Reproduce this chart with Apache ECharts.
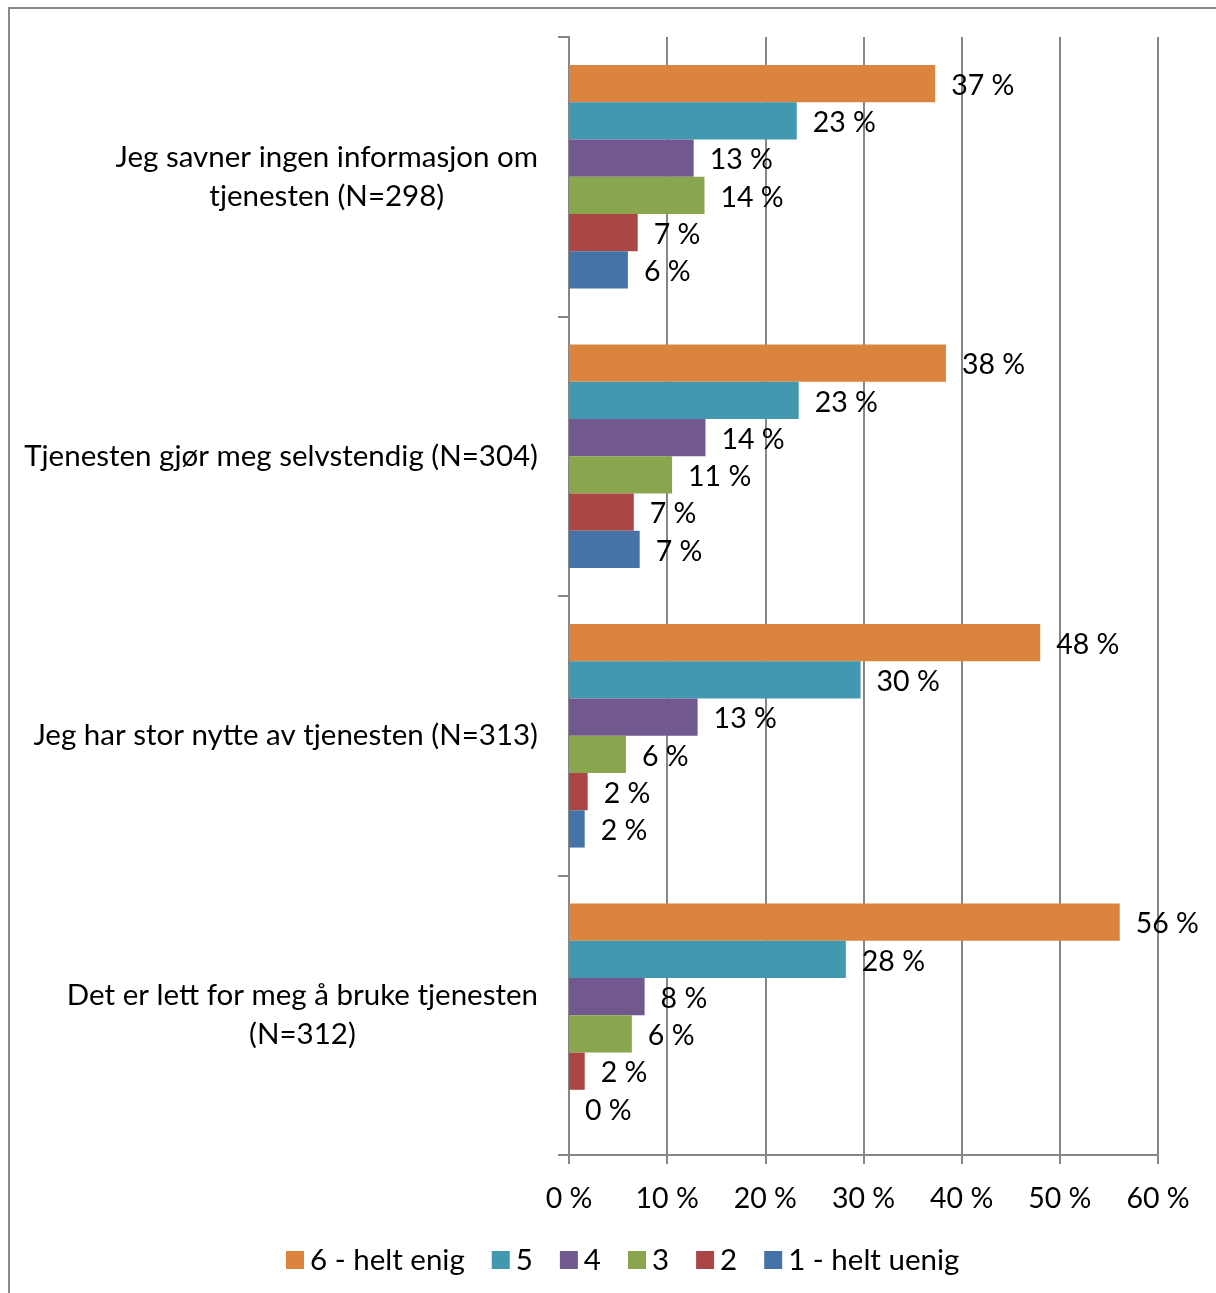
<!DOCTYPE html>
<html>
<head>
<meta charset="utf-8">
<script src="https://cdn.jsdelivr.net/npm/echarts@6/dist/echarts.min.js"></script>
<style>
  html, body { margin: 0; padding: 0; background: #fff; }
  #chart { width: 1216px; height: 1293px; }
</style>
</head>
<body>
<div id="chart"></div>
<script>
// Survey statements (top to bottom) and the share of answers per score, in percent
const categories = [
  'Jeg savner ingen informasjon om\ntjenesten (N=298)',
  'Tjenesten gjør meg selvstendig (N=304)',
  'Jeg har stor nytte av tjenesten (N=313)',
  'Det er lett for meg å bruke tjenesten\n(N=312)'
];
const seriesNames = ['6 - helt enig', '5', '4', '3', '2', '1 - helt uenig'];
const score6 = [37.3, 38.4, 48.0, 56.1];
const score5 = [23.2, 23.4, 29.7, 28.2];
const score4 = [12.7, 13.9, 13.1, 7.7];
const score3 = [13.8, 10.5, 5.8, 6.4];
const score2 = [7.0, 6.6, 1.9, 1.6];
const score1 = [6.0, 7.2, 1.6, 0];
const xTicks = [0, 10, 20, 30, 40, 50, 60];

const colors = ['#DB843D', '#4198AF', '#71588F', '#89A54E', '#AA4643', '#4572A7'];
const values = [score6, score5, score4, score3, score2, score1];
const FONT = 'Lato, "Open Sans", sans-serif';
const AXIS_GREY = '#868686';

const chart = echarts.init(document.getElementById('chart'));

const series = seriesNames.map((name, i) => ({
  name: name,
  type: 'bar',
  data: values[i],
  barGap: '0%',
  barCategoryGap: '20%',
  itemStyle: { color: colors[i] },
  label: {
    show: true,
    position: 'right',
    distance: 16,
    offset: [0, 2],
    color: '#000',
    fontFamily: FONT,
    fontSize: 28.5,
    formatter: p => Math.round(p.value) + ' %'
  }
}));

chart.setOption({
  animation: false,
  backgroundColor: '#fff',
  textStyle: { fontFamily: FONT },
  graphic: [
    { type: 'rect', shape: { x: 8, y: 7, width: 1300, height: 2 }, style: { fill: '#888' } },
    { type: 'rect', shape: { x: 8, y: 7, width: 2, height: 1400 }, style: { fill: '#888' } }
  ],
  grid: { left: 569, right: 58, top: 37, bottom: 138, containLabel: false },
  legend: {
    data: seriesNames,
    left: 281,
    top: 1240,
    itemWidth: 18,
    itemHeight: 18,
    itemGap: 27,
    icon: 'rect',
    textStyle: { fontFamily: FONT, fontSize: 29.5, color: '#000', padding: [0, 0, 0, 1] }
  },
  xAxis: {
    type: 'value',
    min: xTicks[0],
    max: xTicks[xTicks.length - 1],
    interval: 10,
    axisLine: { show: true, lineStyle: { color: AXIS_GREY, width: 2 } },
    axisTick: { show: true, length: 9, lineStyle: { color: AXIS_GREY, width: 2 } },
    splitLine: { show: true, lineStyle: { color: AXIS_GREY, width: 2 } },
    axisLabel: {
      margin: 29,
      color: '#000',
      fontFamily: FONT,
      fontSize: 28.5,
      formatter: v => v + ' %'
    }
  },
  yAxis: {
    type: 'category',
    data: categories,
    inverse: true,
    axisLine: { show: true, onZero: false, lineStyle: { color: AXIS_GREY, width: 2 } },
    axisTick: { show: true, length: 11, lineStyle: { color: AXIS_GREY, width: 2 } },
    splitLine: { show: false },
    axisLabel: {
      margin: 31,
      color: '#000',
      fontFamily: FONT,
      fontSize: 29.5,
      lineHeight: 39,
      align: 'right',
      formatter: v => v.split('\n').map(line => '{c|' + line + '}').join('\n'),
      rich: {
        c: { align: 'center', fontFamily: FONT, fontSize: 29.5, lineHeight: 39, color: '#000' }
      }
    }
  },
  series: series
});
</script>
</body>
</html>
